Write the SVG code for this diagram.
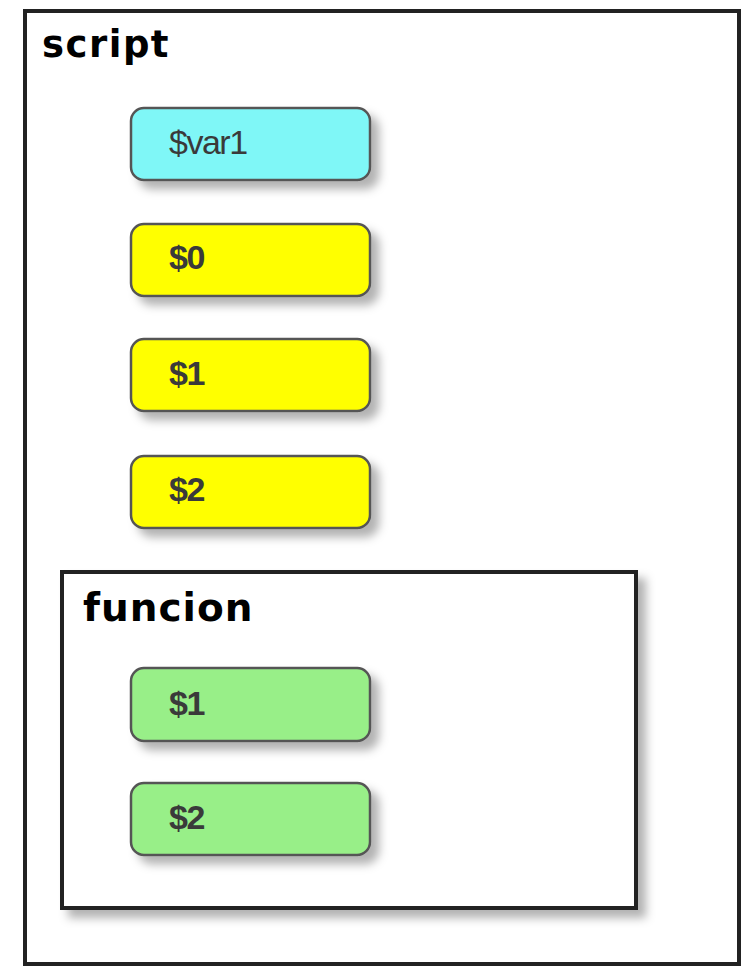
<svg xmlns="http://www.w3.org/2000/svg" width="744" height="967" viewBox="0 0 744 967">
<style>
.frame{fill:#fff;stroke:#222;stroke-width:4}
.node{stroke:#555;stroke-width:2.5}
.title{font-family:"DejaVu Sans",sans-serif;fill:#000;font-weight:bold}
.lbl{font-family:"Liberation Sans",Arial,sans-serif;font-size:34px;font-weight:bold;fill:#3a3a3a;letter-spacing:-1.5px}
</style>
<defs>
<filter id="sh" x="-20%" y="-20%" width="150%" height="160%">
<feDropShadow dx="8" dy="8" stdDeviation="5" flood-color="#000" flood-opacity="0.3"/>
</filter>
</defs>
<rect width="744" height="967" fill="#fff"/>
<g id="script">
<rect class="frame" x="25" y="11" width="714" height="953"/>
<text class="title" x="42" y="57" font-size="37" letter-spacing="1.5">script</text>
</g>
<g id="var1"><rect class="node" filter="url(#sh)" x="131" y="108" width="239" height="72" rx="13" fill="#7ff7f7"/><text class="lbl" x="169" y="154" style="font-weight:normal">$var1</text></g>
<g id="s0"><rect class="node" filter="url(#sh)" x="131" y="224" width="239" height="72" rx="13" fill="#ffff00"/><text class="lbl" x="169" y="269">$0</text></g>
<g id="s1"><rect class="node" filter="url(#sh)" x="131" y="339" width="239" height="72" rx="13" fill="#ffff00"/><text class="lbl" x="169" y="385">$1</text></g>
<g id="s2"><rect class="node" filter="url(#sh)" x="131" y="456" width="239" height="72" rx="13" fill="#ffff00"/><text class="lbl" x="169" y="501">$2</text></g>
<g id="funcion">
<rect class="frame" filter="url(#sh)" x="62" y="572" width="574" height="336"/>
<text class="title" x="83" y="621" font-size="39" letter-spacing="1">funcion</text>
</g>
<g id="f1"><rect class="node" filter="url(#sh)" x="131" y="668" width="239" height="73" rx="13" fill="#98ef88"/><text class="lbl" x="169" y="715">$1</text></g>
<g id="f2"><rect class="node" filter="url(#sh)" x="131" y="783" width="239" height="72" rx="13" fill="#98ef88"/><text class="lbl" x="169" y="829">$2</text></g>
<g id="connectors"></g>
</svg>
